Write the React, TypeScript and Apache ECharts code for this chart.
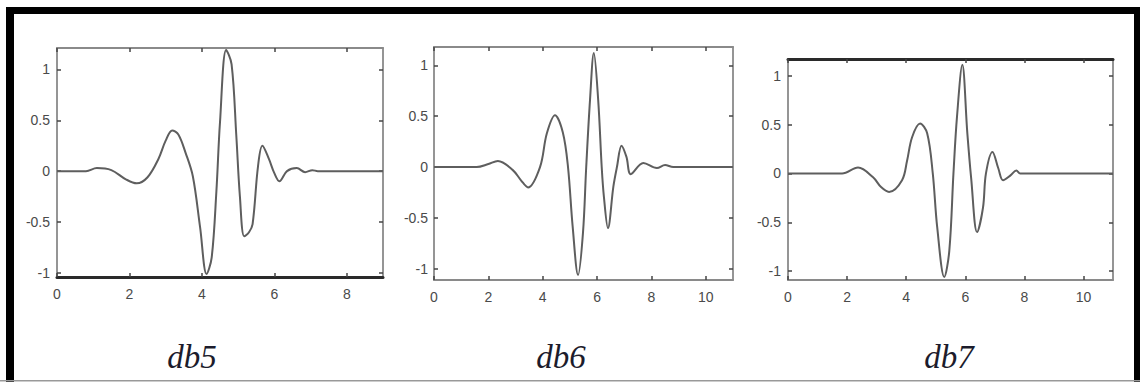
import React, { useEffect, useRef } from "react";
import * as echarts from "echarts";

// db5 wavelet
const db5X = [0, 0.8, 1.1, 1.5, 1.9, 2.2, 2.5, 2.8, 3.0, 3.18, 3.35, 3.55, 3.75, 3.95, 4.13, 4.27, 4.4, 4.5, 4.67, 4.82, 4.95, 5.05, 5.17, 5.3, 5.4, 5.55, 5.67, 5.85, 6.0, 6.14, 6.35, 6.62, 6.85, 7.05, 7.2, 9];
const db5Y = [0, 0, 0.03, 0.01, -0.08, -0.12, -0.06, 0.12, 0.3, 0.4, 0.36, 0.18, -0.05, -0.55, -1.01, -0.85, -0.2, 0.48, 1.19, 1.05, 0.35, -0.25, -0.64, -0.6, -0.52, 0.05, 0.25, 0.12, -0.02, -0.1, 0, 0.03, -0.01, 0.01, 0, 0];

// db6 wavelet
const db6X = [0, 1.57, 2.0, 2.35, 2.9, 3.2, 3.46, 3.9, 4.15, 4.45, 4.74, 4.93, 5.1, 5.3, 5.48, 5.6, 5.74, 5.88, 6.04, 6.17, 6.25, 6.4, 6.6, 6.73, 6.9, 7.08, 7.24, 7.7, 8.2, 8.5, 8.8, 11];
const db6Y = [0, 0, 0.03, 0.06, -0.03, -0.13, -0.2, 0, 0.33, 0.51, 0.34, 0, -0.58, -1.06, -0.65, 0, 0.66, 1.12, 0.66, 0, -0.29, -0.6, -0.19, 0, 0.21, 0.1, -0.07, 0.04, -0.01, 0.02, 0, 0];

// db7 wavelet
const db7X = [0, 1.83, 2.37, 2.88, 3.15, 3.42, 3.86, 4.03, 4.2, 4.47, 4.71, 4.9, 5.05, 5.29, 5.46, 5.6, 5.72, 5.9, 6.07, 6.2, 6.4, 6.6, 6.7, 6.92, 7.12, 7.28, 7.53, 7.73, 7.86, 11];
const db7Y = [0, 0, 0.06, -0.04, -0.14, -0.19, -0.07, 0.13, 0.37, 0.51, 0.41, 0, -0.55, -1.06, -0.79, 0, 0.58, 1.11, 0.41, -0.05, -0.6, -0.35, 0, 0.22, 0.05, -0.07, -0.02, 0.03, 0, 0];

const names = ["db5", "db6", "db7"];
const xTicks5 = [0, 2, 4, 6, 8];
const xTicks67 = [0, 2, 4, 6, 8, 10];
const yTicks = [-1, -0.5, 0, 0.5, 1];

const pairs = (xs: number[], ys: number[]) => xs.map((x, i) => [x, ys[i]]);

export default function App() {
  const ref = useRef<HTMLDivElement>(null);
  useEffect(() => {
    document.body.style.margin = "0";
    const chart = echarts.init(ref.current!, null, { renderer: "svg" });

    const grids = [
      { left: 57, top: 48, width: 326, height: 229 },
      { left: 434, top: 47, width: 299, height: 233 },
      { left: 788, top: 59, width: 325, height: 221 },
    ];
    const xMax = [9, 11, 11];
    const yMin = [-1.04, -1.11, -1.09];
    const yMax = [1.21, 1.18, 1.17];
    const xT = [xTicks5, xTicks67, xTicks67];
    const ylm = [7, 6, 7];
    const bottomDark = [true, false, false];
    const topDark = [false, false, true];

    const axisGray = "#8a8a8a";
    const dark = "#2a2a2a";
    const labelStyle = { color: "#4a4a4a", fontSize: 14, fontFamily: "Liberation Sans" };
    const tickStyle = { color: "#444", width: 1.5 };

    const xAxis: any[] = [];
    const yAxis: any[] = [];
    for (let i = 0; i < 3; i++) {
      xAxis.push({
        type: "value", gridIndex: i, position: "bottom", min: 0, max: xMax[i],
        axisLine: { show: true, onZero: false, lineStyle: { color: bottomDark[i] ? dark : axisGray, width: bottomDark[i] ? 3 : 1.8 } },
        axisTick: { show: true, inside: true, length: 4, customValues: xT[i], lineStyle: tickStyle },
        axisLabel: { show: true, margin: 10, customValues: xT[i], ...labelStyle },
        splitLine: { show: false },
      });
      xAxis.push({
        type: "value", gridIndex: i, position: "top", min: 0, max: xMax[i],
        axisLine: { show: true, onZero: false, lineStyle: { color: topDark[i] ? dark : axisGray, width: topDark[i] ? 3 : 1.8 } },
        axisTick: { show: true, inside: true, length: 4, customValues: xT[i], lineStyle: tickStyle },
        axisLabel: { show: false },
        splitLine: { show: false },
      });
      yAxis.push({
        type: "value", gridIndex: i, position: "left", min: yMin[i], max: yMax[i],
        axisLine: { show: true, onZero: false, lineStyle: { color: axisGray, width: 1.8 } },
        axisTick: { show: true, inside: true, length: 4, customValues: yTicks, lineStyle: tickStyle },
        axisLabel: { show: true, margin: ylm[i], customValues: yTicks, ...labelStyle },
        splitLine: { show: false },
      });
      yAxis.push({
        type: "value", gridIndex: i, position: "right", min: yMin[i], max: yMax[i],
        axisLine: { show: true, onZero: false, lineStyle: { color: axisGray, width: 1.8 } },
        axisTick: { show: true, inside: true, length: 4, customValues: yTicks, lineStyle: tickStyle },
        axisLabel: { show: false },
        splitLine: { show: false },
      });
    }

    const data = [pairs(db5X, db5Y), pairs(db6X, db6Y), pairs(db7X, db7Y)];
    const series = data.map((d, i) => ({
      type: "line", name: names[i], xAxisIndex: i * 2, yAxisIndex: i * 2,
      data: d, showSymbol: false, smooth: 0.35,
      lineStyle: { color: "#5e5e5e", width: 2 },
    }));

    const labelX = [192, 561, 949];
    const graphic: any[] = [
      { type: "rect", shape: { x: 6, y: 7, width: 1134, height: 7 }, style: { fill: "#000" } },
      { type: "rect", shape: { x: 6, y: 7, width: 8, height: 375 }, style: { fill: "#000" } },
      { type: "rect", shape: { x: 1134, y: 7, width: 6, height: 375 }, style: { fill: "#000" } },
      { type: "rect", shape: { x: 0, y: 380, width: 1140, height: 1.5 }, style: { fill: "#999" } },
      ...names.map((n, i) => ({
        type: "text", x: labelX[i], y: 357,
        style: { text: n, fill: "#1c1c2c", font: "italic 33px 'Liberation Serif'", align: "center", verticalAlign: "middle" },
      })),
    ];

    chart.setOption({
      animation: false,
      backgroundColor: "#fff",
      grid: grids,
      xAxis, yAxis, series, graphic,
    });
    return () => chart.dispose();
  }, []);
  return <div ref={ref} style={{ width: 1140, height: 382 }} />;
}
